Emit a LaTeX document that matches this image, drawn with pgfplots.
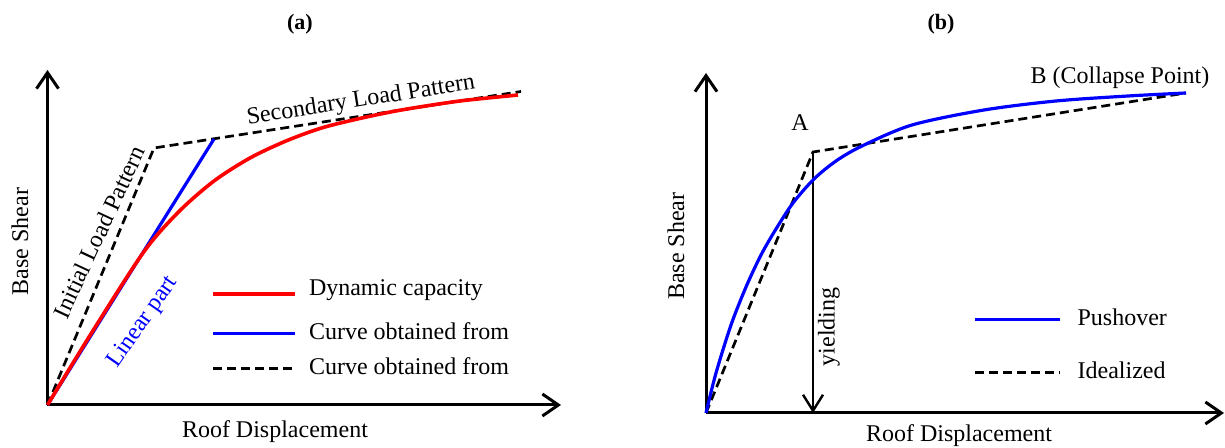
\documentclass[border=0pt]{standalone}
\usepackage{pgfplots}
\pgfplotsset{compat=1.18}
\usepackage{fontspec}
\setmainfont{Liberation Serif}
\usetikzlibrary{arrows.meta}
\begin{document}
\begin{tikzpicture}
\fontsize{12}{14}\selectfont
\path[use as bounding box] (0,0) rectangle (612.5pt,224pt);
\pgfplotsset{
  every axis title shift=0pt,
  diag/.style={
    x=0.5pt, y=0.5pt,
    axis lines=left,
    axis line style={line width=1.5pt,-{Straight Barb[length=8pt,width=11pt,line width=1.5pt]}},
    xtick=\empty, ytick=\empty,
    enlargelimits=false, clip=false,
    xmin=0, ymin=0,
    anchor=south west,
    xlabel style={anchor=center, font=\fontsize{12}{14}\selectfont},
    ylabel style={anchor=center, font=\fontsize{12}{14}\selectfont},
    title style={anchor=center},
    legend cell align=left,
  }
}
% ---------------- (a) ----------------
\begin{axis}[diag,
  at={(23.75pt,21.5pt)},
  xmax=513.5, ymax=335,
  xlabel={Roof Displacement},
  ylabel={Base Shear},
  title={\fontsize{11}{13}\selectfont\bfseries (a)},
  xlabel style={at={(axis description cs:0.443,-0.0806)}},
  ylabel style={at={(axis description cs:-0.0536,0.488)}},
  title style={at={(axis description cs:0.4917,1.137)}},
  legend style={draw=none, fill=none, at={(axis cs:163.5,128)}, anchor=north west,
    row sep=5.5pt, column sep=6pt, inner sep=0pt,
    font=\fontsize{12}{14}\selectfont,
    nodes={inner sep=0pt, text height=9pt, text depth=3pt}},
  legend image code/.code={\draw[#1] (0pt,0pt) -- (41pt,0pt);},
]
\addplot[black, line width=1.35pt, dash pattern=on 4.5pt off 2.5pt, forget plot]
  coordinates {(0,0) (106.5,257) (473.5,313.5)};
\addplot[blue, line width=1.6pt, forget plot]
  coordinates {(0,0) (166.5,266)};
\addplot[red, line width=1.8pt, smooth, forget plot]
  coordinates {(0,0) (41.5,68) (95.5,152) (131,193) (166.5,224) (202.5,247)
    (238.5,264) (274,277) (310,286) (345.5,293.5) (381.5,299.5) (416.5,304.5) (470.5,310)};
\addlegendimage{red, line width=1.8pt}
\addlegendentry[text depth=7.5pt]{Dynamic capacity}
\addlegendimage{blue, line width=1.6pt}
\addlegendentry{Curve obtained from}
\addlegendimage{black, line width=1.35pt, dash pattern=on 4.5pt off 2.5pt}
\addlegendentry{Curve obtained from}
\node[rotate=9] at (axis cs:313.5,304) {Secondary Load Pattern};
\node[rotate=65] at (axis cs:51.5,173) {Initial Load Pattern};
\node[rotate=55, text=blue] at (axis cs:95.5,82.5) {Linear part};
\end{axis}
% ---------------- (b) ----------------
\begin{axis}[diag,
  at={(353pt,17.5pt)},
  xmax=518, ymax=340,
  xlabel={Roof Displacement},
  ylabel={Base Shear},
  title={\fontsize{11}{13}\selectfont\bfseries (b)},
  xlabel style={at={(axis description cs:0.4884,-0.0676)}},
  ylabel style={at={(axis description cs:-0.0579,0.491)}},
  title style={at={(axis description cs:0.4537,1.144)}},
  legend style={draw=none, fill=none, at={(axis cs:267,106)}, anchor=north west,
    row sep=14.5pt, column sep=8pt, inner sep=0pt,
    font=\fontsize{12}{14}\selectfont,
    nodes={inner sep=0pt, text height=9pt, text depth=3pt}},
  legend image code/.code={\draw[#1] (0pt,0pt) -- (42.5pt,0pt);},
]
\addplot[black, line width=1.35pt, dash pattern=on 4.5pt off 2.5pt, forget plot]
  coordinates {(0,0) (107,261) (480,320)};
\addplot[black, line width=1.2pt, forget plot, -{Straight Barb[length=8pt,width=10pt,line width=1.2pt]}]
  coordinates {(107,261) (107,0)};
\addplot[blue, line width=1.6pt, smooth, forget plot]
  coordinates {(0,0) (10,40) (25,88) (40,126) (55,158) (70,184) (87,210) (108,234)
    (130,252) (156,267) (206,288) (278,303) (350,312) (422,317) (480,320)};
\addlegendimage{blue, line width=1.6pt}
\addlegendentry{Pushover}
\addlegendimage{black, line width=1.35pt, dash pattern=on 4.5pt off 2.5pt}
\addlegendentry{Idealized}
\node at (axis cs:94,290) {A};
\node at (axis cs:414,335) {B (Collapse Point)};
\node[rotate=90] at (axis cs:123,86) {yielding};
\end{axis}
\end{tikzpicture}
\end{document}
